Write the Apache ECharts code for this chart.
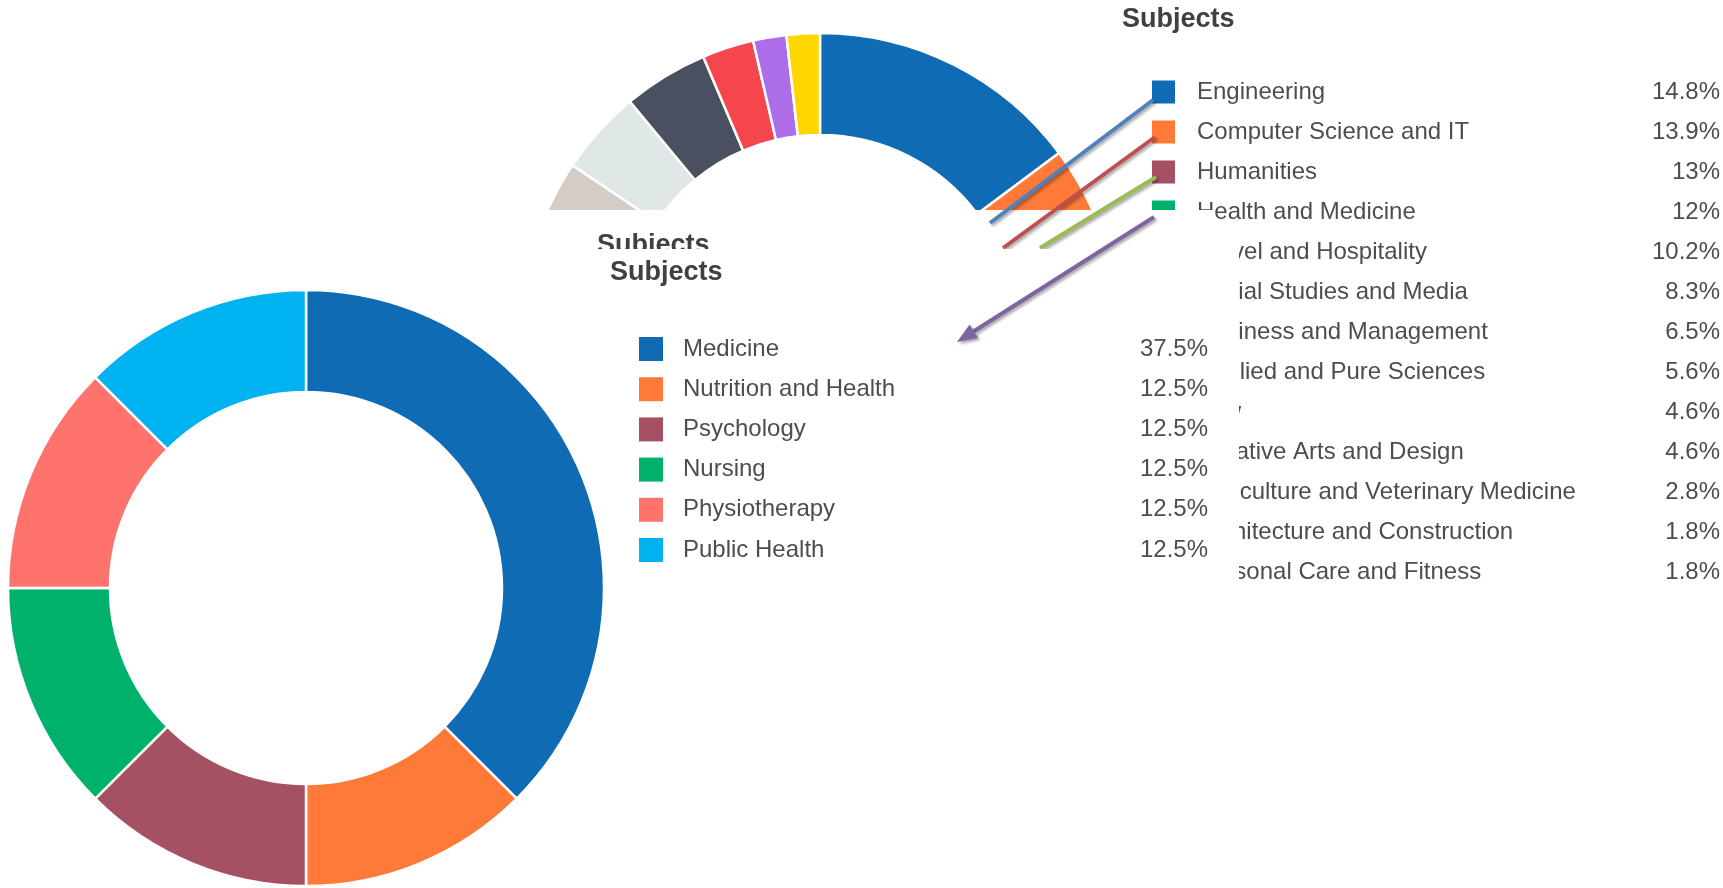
<!DOCTYPE html>
<html>
<head>
<meta charset="utf-8">
<script src="https://cdn.jsdelivr.net/npm/echarts@6/dist/echarts.min.js"></script>
<style>
  html, body { margin: 0; padding: 0; background: #ffffff; }
  #chart { width: 1723px; height: 888px; }
</style>
</head>
<body>
<div id="chart"></div>
<script>
// All subjects (share of courses, %)
const subjectNames = [
  'Engineering', 'Computer Science and IT', 'Humanities', 'Health and Medicine',
  'Travel and Hospitality', 'Social Studies and Media', 'Business and Management',
  'Applied and Pure Sciences', 'Law', 'Creative Arts and Design',
  'Agriculture and Veterinary Medicine', 'Architecture and Construction',
  'Personal Care and Fitness'
];
const subjectShares = [14.8, 13.9, 13, 12, 10.2, 8.3, 6.5, 5.6, 4.6, 4.6, 2.8, 1.8, 1.8];
const subjectColors = [
  '#0e6bb4', '#ff7a38', '#a65064', '#00b16b', '#ff736d', '#00b2ef', '#3d5a98',
  '#d6ccc6', '#e0e8e7', '#4a5060', '#f4464c', '#ad6ce8', '#ffd700'
];

// Breakdown of "Health and Medicine" (%)
const healthNames = ['Medicine', 'Nutrition and Health', 'Psychology', 'Nursing', 'Physiotherapy', 'Public Health'];
const healthShares = [37.5, 12.5, 12.5, 12.5, 12.5, 12.5];
const healthColors = ['#0e6bb4', '#ff7a38', '#a65064', '#00b16b', '#ff736d', '#00b2ef'];

const FONT = '"Liberation Sans", Arial, Helvetica, sans-serif';
const TEXT_COLOR = '#4d4d4d';

function shareMap(names, values) {
  const m = {};
  names.forEach((n, i) => { m[n] = values[i]; });
  return m;
}
const subjectShareByName = shareMap(subjectNames, subjectShares);
const healthShareByName = shareMap(healthNames, healthShares);

function legendRich(spacer, nameWidth) {
  const base = { fontFamily: FONT, fontSize: 24, lineHeight: 24, color: TEXT_COLOR };
  return {
    s: Object.assign({}, base, { width: spacer }),
    n: Object.assign({}, base, { width: nameWidth }),
    p: Object.assign({}, base, { width: 80, align: 'right' })
  };
}

function legendItems(names, colors) {
  return names.map((n, i) => ({ name: n, itemStyle: { color: colors[i], borderWidth: 0 } }));
}

function pieData(names, values, colors) {
  return names.map((n, i) => ({ name: n, value: values[i], itemStyle: { color: colors[i] } }));
}

// connector arrows from the legend to the breakdown chart
function arrowHead(x1, y1, x2, y2, len, half) {
  const dx = x2 - x1, dy = y2 - y1;
  const d = Math.sqrt(dx * dx + dy * dy);
  const ux = dx / d, uy = dy / d;
  const bx = x2 - ux * len, by = y2 - uy * len;
  return {
    base: [bx, by],
    points: [[x2, y2], [bx - uy * half, by + ux * half], [bx + uy * half, by - ux * half]]
  };
}
const shadow = { shadowColor: 'rgba(0,0,0,0.35)', shadowBlur: 3, shadowOffsetX: 2, shadowOffsetY: 2 };
const purpleHead = arrowHead(1154, 217, 957, 342, 20, 8);

const chart = echarts.init(document.getElementById('chart'), null, { renderer: 'canvas' });

chart.setOption({
  animation: false,
  backgroundColor: '#ffffff',
  title: [
    {
      text: 'Subjects', left: 1122, top: 6, padding: 0, z: 6,
      textStyle: { fontFamily: FONT, fontSize: 27, lineHeight: 27, fontWeight: 'bold', color: '#404040' }
    },
    {
      text: 'Subjects', left: 610, top: 259, padding: 0, z: 30,
      textStyle: { fontFamily: FONT, fontSize: 27, lineHeight: 27, fontWeight: 'bold', color: '#404040' }
    }
  ],
  legend: [
    {
      data: legendItems(subjectNames, subjectColors),
      orient: 'vertical',
      left: 1152, top: 80, padding: 0,
      icon: 'rect', itemWidth: 23, itemHeight: 23, itemGap: 16,
      z: 4,
      selectedMode: false,
      formatter: name => `{s|\u00a0}{n|${name}}{p|${subjectShareByName[name]}%}`,
      textStyle: { fontFamily: FONT, fontSize: 24, color: TEXT_COLOR, rich: legendRich(17, 443) }
    },
    {
      data: legendItems(healthNames, healthColors),
      orient: 'vertical',
      left: 639, top: 337, padding: 0,
      icon: 'rect', itemWidth: 24, itemHeight: 24, itemGap: 16.2,
      z: 30,
      selectedMode: false,
      formatter: name => `{s|\u00a0}{n|${name}}{p|${healthShareByName[name]}%}`,
      textStyle: { fontFamily: FONT, fontSize: 24, color: TEXT_COLOR, rich: legendRich(15, 445) }
    }
  ],
  series: [
    {
      name: 'Subjects',
      type: 'pie',
      z: 2,
      silent: true,
      center: [820, 331],
      radius: [196, 298],
      startAngle: 90,
      clockwise: true,
      label: { show: false },
      labelLine: { show: false },
      itemStyle: { borderColor: '#ffffff', borderWidth: 2.5 },
      data: pieData(subjectNames, subjectShares, subjectColors)
    },
    {
      name: 'Health and Medicine',
      type: 'pie',
      z: 20,
      silent: true,
      center: [306, 588],
      radius: [196, 298],
      startAngle: 90,
      clockwise: true,
      label: { show: false },
      labelLine: { show: false },
      itemStyle: { borderColor: '#ffffff', borderWidth: 2.5 },
      data: pieData(healthNames, healthShares, healthColors)
    }
  ],
  graphic: [
    // panel of the breakdown view laid over the overview
    { type: 'rect', silent: true, z: 10, shape: { x: 0, y: 210, width: 1213, height: 678 }, style: { fill: '#ffffff' } },
    { type: 'rect', silent: true, z: 10, shape: { x: 0, y: 229, width: 1239, height: 659 }, style: { fill: '#ffffff' } },
    {
      type: 'text', silent: true, z: 12, x: 597, y: 246,
      style: { text: 'Subjects', fontFamily: FONT, fontSize: 27, fontWeight: 'bold', fill: '#404040', verticalAlign: 'middle' }
    },
    { type: 'line', silent: true, z: 13, shape: { x1: 1153, y1: 100, x2: 990, y2: 223 },
      style: Object.assign({ stroke: '#4f81bd', lineWidth: 4 }, shadow) },
    { type: 'line', silent: true, z: 13, shape: { x1: 1155, y1: 137, x2: 1003, y2: 248 },
      style: Object.assign({ stroke: '#c0504d', lineWidth: 4 }, shadow) },
    { type: 'line', silent: true, z: 13, shape: { x1: 1156, y1: 177, x2: 1040, y2: 248 },
      style: Object.assign({ stroke: '#9bbb59', lineWidth: 4 }, shadow) },
    { type: 'rect', silent: true, z: 15, shape: { x: 0, y: 249, width: 1239, height: 639 }, style: { fill: '#ffffff' } },
    // arrow pointing at the breakdown legend
    { type: 'line', silent: true, z: 25, shape: { x1: 1154, y1: 217, x2: purpleHead.base[0], y2: purpleHead.base[1] },
      style: Object.assign({ stroke: '#8064a2', lineWidth: 4 }, shadow) },
    { type: 'polygon', silent: true, z: 25, shape: { points: purpleHead.points },
      style: Object.assign({ fill: '#8064a2' }, shadow) }
  ]
});
</script>
</body>
</html>
